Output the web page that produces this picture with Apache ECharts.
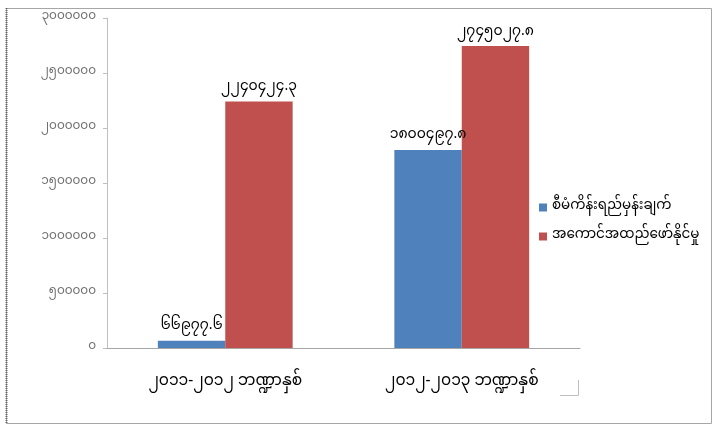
<!DOCTYPE html>
<html>
<head>
<meta charset="utf-8">
<script src="https://cdn.jsdelivr.net/npm/echarts@6/dist/echarts.min.js"></script>
<style>html,body{margin:0;padding:0;background:#fff}#c{width:714px;height:429px}</style>
</head>
<body>
<div id="c"></div>
<script>
var categories = ['၂၀၁၁-၂၀၁၂ ဘဏ္ဍာနှစ်', '၂၀၁၂-၂၀၁၃ ဘဏ္ဍာနှစ်'];
var seriesNames = ['စီမံကိန်းရည်မှန်းချက်', 'အကောင်အထည်ဖော်နိုင်မှု'];
var planValues = [66977.6, 1800497.8];
var actualValues = [2240424.3, 2745027.8];
var yMin = 0, yMax = 3000000, yInterval = 500000;

function toMy(s) {
  return String(s).replace(/[0-9]/g, function (d) { return String.fromCharCode(0x1040 + Number(d)); });
}
var FONT = '"Noto Sans Myanmar", "Myanmar Text", "Padauk", "Noto Sans", "DejaVu Sans", sans-serif';

var chart = echarts.init(document.getElementById('c'));
chart.setOption({
  backgroundColor: '#fff',
  animation: false,
  textStyle: { fontFamily: FONT },
  grid: { left: 107, right: 134, top: 18, bottom: 81 },
  legend: {
    orient: 'vertical',
    left: 534, top: 195,
    itemWidth: 8, itemHeight: 8, itemGap: 14,
    icon: 'rect',
    textStyle: { fontSize: 13.5, lineHeight: 15, color: '#000', fontFamily: FONT },
    data: seriesNames
  },
  xAxis: {
    type: 'category',
    data: categories,
    axisLine: { lineStyle: { color: '#a6a6a6', width: 1 } },
    axisTick: { show: false },
    axisLabel: { color: '#000', fontSize: 15.5, margin: 27, fontFamily: FONT }
  },
  yAxis: {
    type: 'value',
    min: yMin, max: yMax, interval: yInterval,
    splitLine: { show: false },
    axisLine: { show: true, lineStyle: { color: '#bfbfbf', width: 1 } },
    axisTick: { show: true, length: 4, lineStyle: { color: '#bfbfbf' } },
    axisLabel: { color: '#6f6f6f', fontSize: 12, margin: 11, fontFamily: FONT,
      formatter: function (v) { return toMy(v); } }
  },
  series: [
    {
      name: seriesNames[0], type: 'bar', data: planValues,
      barGap: '0%', barCategoryGap: '43%',
      itemStyle: { color: '#4F81BD' },
      label: { show: true, position: 'top', distance: 6, color: '#000', fontSize: 14, fontFamily: FONT,
        formatter: function (p) { return toMy(p.value.toFixed(1)); } }
    },
    {
      name: seriesNames[1], type: 'bar', data: actualValues,
      itemStyle: { color: '#C0504D' },
      label: { show: true, position: 'top', distance: 6, color: '#000', fontSize: 14, fontFamily: FONT,
        formatter: function (p) { return toMy(p.value.toFixed(1)); } }
    }
  ],
  graphic: [
    { type: 'rect', shape: { x: 6.5, y: 8.5, width: 705, height: 415 }, style: { fill: 'none', stroke: '#a6a6a6', lineWidth: 1 }, silent: true },
    { type: 'line', shape: { x1: 6.5, y1: 8, x2: 6.5, y2: 424 }, style: { stroke: '#666', lineWidth: 2, lineDash: [1, 1] }, silent: true },
    { type: 'polyline', shape: { points: [[560, 395.5], [578.5, 395.5], [578.5, 380]] }, style: { fill: 'none', stroke: '#bfbfbf', lineWidth: 1 }, silent: true }
  ]
});
</script>
</body>
</html>
